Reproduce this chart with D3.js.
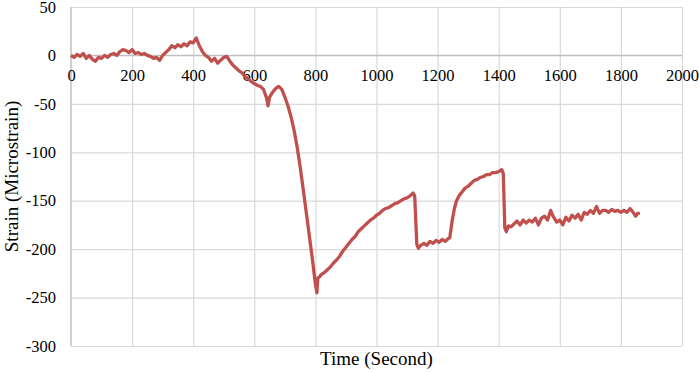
<!DOCTYPE html>
<html>
<head>
<meta charset="utf-8">
<script src="https://cdn.jsdelivr.net/npm/d3@7/dist/d3.min.js"></script>
<style>
  html, body { margin: 0; padding: 0; background: #fff; }
  svg { display: block; }
  text { font-family: "Liberation Serif", "Times New Roman", serif; fill: #000; }
</style>
</head>
<body>
<svg id="chart" width="699" height="372"></svg>
<script>
// ---- Data ----
const xTicks = [0, 200, 400, 600, 800, 1000, 1200, 1400, 1600, 1800, 2000];
const yTicks = [50, 0, -50, -100, -150, -200, -250, -300];
const xTitle = "Time (Second)";
const yTitle = "Strain (Microstrain)";

const time = [
  0,10,20,30,40,50,60,70,80,90,100,110,120,130,140,150,160,170,180,190,
  200,210,220,230,240,250,260,270,280,290,300,310,320,330,340,350,360,370,380,390,
  400,410,420,430,440,450,460,470,480,490,500,510,520,530,540,550,560,570,580,590,
  600,610,620,630,640,645,650,660,670,680,690,700,710,720,730,740,750,760,770,780,
  790,800,805,808,815,820,830,840,850,860,870,880,890,900,910,920,930,940,950,960,
  970,980,990,1000,1010,1020,1030,1040,1050,1060,1070,1080,1090,1100,1110,1120,1125,1132,1137,1145,
  1155,1165,1175,1185,1195,1205,1215,1225,1235,1240,1248,1255,1262,1270,1280,1290,1300,1310,1320,1330,
  1340,1350,1360,1370,1380,1390,1400,1410,1415,1420,1425,1432,1440,1450,1460,1470,1480,1490,1500,1510,
  1520,1530,1540,1550,1560,1570,1575,1580,1590,1600,1610,1620,1630,1640,1650,1660,1670,1680,1690,1700,
  1710,1720,1730,1740,1750,1760,1770,1780,1790,1800,1810,1820,1830,1840,1848,1855,1862
];
const strain = [
  0,-2,1,-1,2,-3,0,-4,-6,-2,-3,0,-2,1,2,0,4,6,5,3,
  6,2,3,1,2,0,-1,-3,-2,-5,0,3,6,10,8,11,9,12,10,14,
  13,18,10,4,0,-2,-6,-3,-8,-5,-2,-1,-6,-10,-13,-16,-18,-22,-24,-27,
  -29,-31,-32,-35,-44,-52,-43,-38,-34,-32,-35,-43,-52,-63,-77,-94,-115,-138,-162,-186,
  -210,-236,-245,-230,-228,-226,-224,-221,-218,-214,-211,-207,-202,-198,-194,-190,-187,-182,-179,-176,
  -173,-170,-168,-165,-163,-160,-158,-157,-155,-153,-152,-150,-148,-147,-145,-142,-145,-195,-199,-196,
  -194,-196,-192,-194,-191,-193,-190,-192,-189,-188,-170,-158,-150,-145,-141,-137,-135,-132,-129,-128,
  -126,-125,-123,-123,-121,-121,-120,-118,-122,-178,-182,-176,-177,-174,-171,-175,-170,-173,-170,-172,
  -168,-175,-168,-166,-170,-160,-164,-167,-172,-170,-175,-167,-171,-165,-168,-164,-170,-162,-164,-160,
  -163,-156,-163,-160,-160,-162,-159,-161,-160,-162,-160,-162,-158,-162,-166,-163,-163
];

// ---- Layout ----
const W = 699, H = 372;
const margin = { left: 71, right: 17, top: 7, bottom: 26 };
const svg = d3.select("#chart");

const x = d3.scaleLinear().domain([0, 2000]).range([margin.left, W - margin.right]);
const y = d3.scaleLinear().domain([-300, 50]).range([H - margin.bottom, margin.top]);

const gridColor = "#d9d9d9";
const fmt = d => String(d);

// Horizontal gridlines
svg.append("g")
  .attr("transform", `translate(${margin.left},0)`)
  .call(d3.axisLeft(y).tickValues(yTicks.filter(d => d !== 0)).tickSize(-(W - margin.left - margin.right)).tickFormat(""))
  .call(g => g.select(".domain").remove())
  .call(g => g.selectAll("line").attr("stroke", gridColor).attr("stroke-width", 1.2));

// Vertical gridlines
svg.append("g")
  .attr("transform", `translate(0,${margin.top})`)
  .call(d3.axisBottom(x).tickValues(xTicks.filter(d => d !== 0)).tickSize(H - margin.top - margin.bottom).tickFormat(""))
  .call(g => g.select(".domain").remove())
  .call(g => g.selectAll("line").attr("stroke", gridColor).attr("stroke-width", 1.2));

// Left axis line
svg.append("line")
  .attr("x1", x(0)).attr("x2", x(0))
  .attr("y1", y(50)).attr("y2", y(-300))
  .attr("stroke", "#bfbfbf").attr("stroke-width", 1.5);

// Zero axis line
svg.append("line")
  .attr("x1", x(0)).attr("x2", x(2000))
  .attr("y1", y(0)).attr("y2", y(0))
  .attr("stroke", "#bfbfbf").attr("stroke-width", 1.6);

// Y tick labels
svg.append("g")
  .attr("transform", `translate(${margin.left},0)`)
  .call(d3.axisLeft(y).tickValues(yTicks).tickSize(0).tickPadding(15).tickFormat(fmt))
  .call(g => g.select(".domain").remove())
  .call(g => g.selectAll("text")
    .style("font-family", '"Liberation Serif", "Times New Roman", serif')
    .style("font-size", "16.5px").attr("fill", "#000"));

// X tick labels (placed under the zero line)
svg.append("g")
  .attr("transform", `translate(0,${y(0)})`)
  .call(d3.axisBottom(x).tickValues(xTicks).tickSize(0).tickPadding(14).tickFormat(fmt))
  .call(g => g.select(".domain").remove())
  .call(g => g.selectAll("text")
    .style("font-family", '"Liberation Serif", "Times New Roman", serif')
    .style("font-size", "16.5px").attr("fill", "#000"));

// Data line
const pts = time.map((t, i) => [t, strain[i]]);
svg.append("path")
  .datum(pts)
  .attr("fill", "none")
  .attr("stroke", "#c0504d")
  .attr("stroke-width", 3.3)
  .attr("stroke-linejoin", "round")
  .attr("d", d3.line().x(d => x(d[0])).y(d => y(d[1])));

// Axis titles
svg.append("text")
  .attr("x", (x(0) + x(2000)) / 2)
  .attr("y", 365)
  .attr("text-anchor", "middle")
  .style("font-size", "19px")
  .text(xTitle);

svg.append("text")
  .attr("transform", `translate(18,${(y(50) + y(-300)) / 2}) rotate(-90)`)
  .attr("text-anchor", "middle")
  .style("font-size", "19px")
  .text(yTitle);
</script>
</body>
</html>
